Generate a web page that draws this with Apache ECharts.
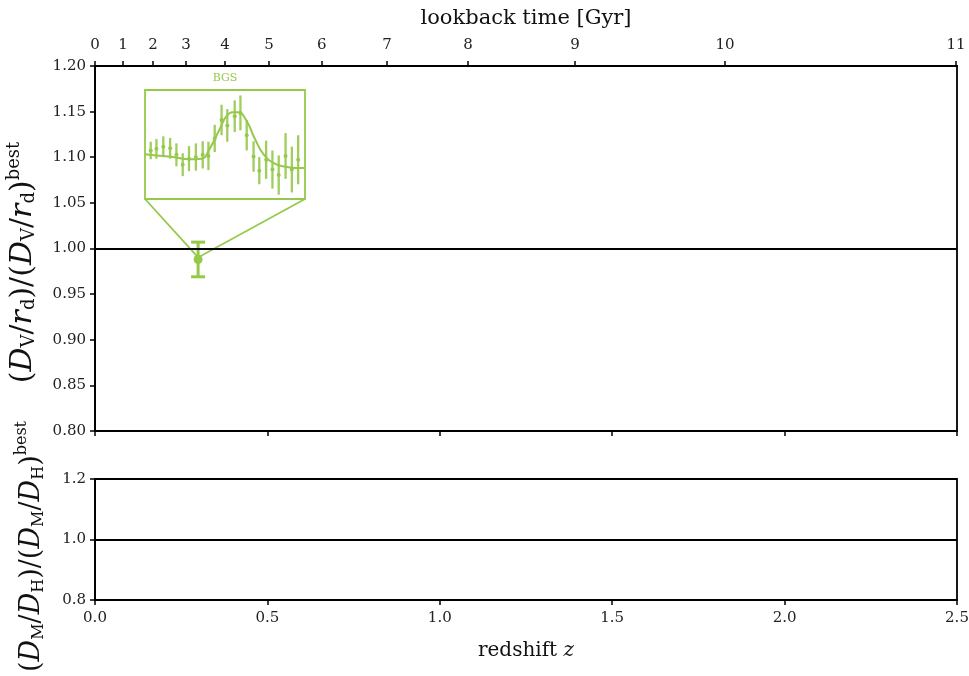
<!DOCTYPE html>
<html>
<head>
<meta charset="utf-8">
<script src="https://cdn.jsdelivr.net/npm/echarts@6/dist/echarts.min.js"></script>
<style>html,body{margin:0;padding:0;background:#fff}#c{width:969px;height:676px}</style>
</head>
<body>
<div id="c"></div>
<script>
// ---- data ----
const lookbackGyr = [0, 1, 2, 3, 4, 5, 6, 7, 8, 9, 10, 11];
const lookbackZ = [0, 0.081, 0.168, 0.264, 0.377, 0.505, 0.658, 0.847, 1.082, 1.392, 1.827, 2.497];
const bgsZ = [0.299];
const bgsRatio = [0.988];
const bgsErr = [0.019];
const refValue = 1.0;
// inset (BAO wiggle, arbitrary units)
const insetK = [0.030, 0.040, 0.052, 0.064, 0.075, 0.086, 0.097, 0.109, 0.121, 0.131, 0.142, 0.154,
                0.164, 0.177, 0.187, 0.198, 0.210, 0.220, 0.232, 0.243, 0.254, 0.266, 0.277, 0.288];
const insetP = [0.989, 0.992, 0.996, 0.993, 0.981, 0.963, 0.974, 0.977, 0.981, 0.979, 1.011, 1.045,
                1.035, 1.052, 1.058, 1.017, 0.978, 0.952, 0.972, 0.954, 0.944, 0.979, 0.954, 0.972];
const insetE = [0.016, 0.018, 0.019, 0.019, 0.021, 0.021, 0.023, 0.025, 0.025, 0.026, 0.025, 0.028,
                0.030, 0.029, 0.032, 0.028, 0.028, 0.025, 0.035, 0.035, 0.036, 0.042, 0.042, 0.045];
const curveK = [0.020, 0.040, 0.069, 0.098, 0.119, 0.133, 0.151, 0.162, 0.174, 0.183, 0.197, 0.212, 0.229, 0.247, 0.267, 0.284, 0.300];
const curveP = [0.982, 0.980, 0.977, 0.973, 0.974, 0.992, 1.029, 1.051, 1.059, 1.059, 1.045, 1.011, 0.980, 0.965, 0.959, 0.957, 0.957];

// ---- style / layout ----
const G = '#95c94a';
const FONT = 'DejaVu Serif';
const INSET = {left: 145, top: 90, width: 160, height: 109};

function makeRich(big, small) {
  return {
    n: {fontFamily: FONT, fontSize: big, lineHeight: 36, color: '#111'},
    i: {fontFamily: FONT, fontSize: big, fontStyle: 'italic', lineHeight: 36, color: '#111'},
    sub: {fontFamily: FONT, fontSize: small, lineHeight: 36, verticalAlign: 'bottom', padding: [0, 0, 3, 0], color: '#111'},
    sup: {fontFamily: FONT, fontSize: small, lineHeight: 36, verticalAlign: 'top', color: '#111'}
  };
}
const richTop = makeRich(30, 18);
const richBottom = makeRich(27, 16);
const richX = {
  n: {fontFamily: FONT, fontSize: 20, color: '#111'},
  i: {fontFamily: FONT, fontSize: 20, fontStyle: 'italic', color: '#111'}
};

const chart = echarts.init(document.getElementById('c'), null, {renderer: 'canvas'});

const axisLineStyle = {lineStyle: {color: '#000', width: 1.8}};
const tickStyle = {inside: false, length: 5, lineStyle: {color: '#000', width: 1.5}};
const labelStyle = {fontFamily: FONT, fontSize: 15, color: '#222'};

function nearestIdx(arr, v) {
  let b = 0;
  for (let i = 1; i < arr.length; i++) if (Math.abs(arr[i] - v) < Math.abs(arr[b] - v)) b = i;
  return b;
}

const option = {
  animation: false,
  backgroundColor: '#fff',
  grid: [
    {left: 95, right: 12, top: 66, height: 365, show: true, borderColor: '#000', borderWidth: 1.8, containLabel: false, outerBoundsMode: 'none'},
    {left: 95, right: 12, top: 479, height: 121, show: true, borderColor: '#000', borderWidth: 1.8, containLabel: false, outerBoundsMode: 'none'},
    {left: INSET.left, top: INSET.top, width: INSET.width, height: INSET.height, show: true, borderColor: G, borderWidth: 1.8, backgroundColor: '#fff', z: 5, outerBoundsMode: 'none'}
  ],
  xAxis: [
    {gridIndex: 0, type: 'value', position: 'bottom', min: 0, max: 2.5, interval: 0.5,
     axisLine: axisLineStyle, axisTick: tickStyle, axisLabel: {show: false}, splitLine: {show: false}},
    {gridIndex: 0, type: 'value', position: 'top', min: 0, max: 2.5,
     axisLine: axisLineStyle,
     axisTick: Object.assign({customValues: lookbackZ}, tickStyle),
     axisLabel: Object.assign({customValues: lookbackZ, margin: 13,
       formatter: v => String(lookbackGyr[nearestIdx(lookbackZ, v)])}, labelStyle),
     splitLine: {show: false},
     name: 'lookback time [Gyr]', nameLocation: 'middle', nameGap: 37,
     nameTextStyle: {fontFamily: FONT, fontSize: 21, color: '#111'}},
    {gridIndex: 1, type: 'value', position: 'bottom', min: 0, max: 2.5, interval: 0.5,
     axisLine: axisLineStyle, axisTick: tickStyle,
     axisLabel: Object.assign({formatter: v => v.toFixed(1), margin: 11}, labelStyle),
     splitLine: {show: false},
     name: '{n|redshift }{i|z}', nameLocation: 'middle', nameGap: 41,
     nameTextStyle: {rich: richX}},
    {gridIndex: 2, type: 'value', position: 'top', min: 0.02, max: 0.30,
     axisLine: {show: false}, axisTick: {show: false}, axisLabel: {show: false}, splitLine: {show: false},
     name: 'BGS', nameLocation: 'middle', nameGap: 6,
     nameTextStyle: {fontFamily: FONT, fontSize: 11, color: G}}
  ],
  yAxis: [
    {gridIndex: 0, type: 'value', min: 0.8, max: 1.2, interval: 0.05,
     axisLine: axisLineStyle, axisTick: tickStyle,
     axisLabel: Object.assign({formatter: v => v.toFixed(2), margin: 9}, labelStyle),
     splitLine: {show: false},
     name: '{n|(}{i|D}{sub|V}{n|/}{i|r}{sub|d}{n|)/(}{i|D}{sub|V}{n|/}{i|r}{sub|d}{n|)}{sup|best}',
     nameLocation: 'middle', nameRotate: 90, nameGap: 45,
     nameTextStyle: {rich: richTop, padding: [0, 28, 0, 0]}},
    {gridIndex: 1, type: 'value', min: 0.8, max: 1.2, interval: 0.2,
     axisLine: axisLineStyle, axisTick: tickStyle,
     axisLabel: Object.assign({formatter: v => v.toFixed(1), margin: 9}, labelStyle),
     splitLine: {show: false},
     name: '{n|(}{i|D}{sub|M}{n|/}{i|D}{sub|H}{n|)/(}{i|D}{sub|M}{n|/}{i|D}{sub|H}{n|)}{sup|best}',
     nameLocation: 'middle', nameRotate: 90, nameGap: 45,
     nameTextStyle: {rich: richBottom, padding: [0, 14, 0, 0]}},
    {gridIndex: 2, type: 'value', min: 0.90, max: 1.10,
     axisLine: {show: false}, axisTick: {show: false}, axisLabel: {show: false}, splitLine: {show: false}}
  ],
  series: [
    {type: 'line', xAxisIndex: 0, yAxisIndex: 0, data: [], silent: true,
     markLine: {silent: true, symbol: 'none', label: {show: false},
       lineStyle: {color: '#000', width: 2, type: 'solid'}, data: [{yAxis: refValue}]}},
    {type: 'line', xAxisIndex: 2, yAxisIndex: 1, data: [], silent: true,
     markLine: {silent: true, symbol: 'none', label: {show: false},
       lineStyle: {color: '#000', width: 2, type: 'solid'}, data: [{yAxis: refValue}]}},
    {type: 'custom', xAxisIndex: 0, yAxisIndex: 0, clip: false, z: 4,
     data: bgsZ.map((z, i) => [z, bgsRatio[i], bgsErr[i]]),
     renderItem: function (params, api) {
       const x = api.value(0), y = api.value(1), e = api.value(2);
       const p = api.coord([x, y]);
       const hi = api.coord([x, y + e]);
       const lo = api.coord([x, y - e]);
       const bl = [INSET.left, INSET.top + INSET.height];
       const br = [INSET.left + INSET.width, INSET.top + INSET.height];
       const cap = 7;
       return {type: 'group', children: [
         {type: 'polyline', shape: {points: [bl, [p[0], p[1] - 2], br]}, style: {stroke: G, lineWidth: 1.8, fill: null}},
         {type: 'line', shape: {x1: p[0], y1: hi[1], x2: p[0], y2: lo[1]}, style: {stroke: G, lineWidth: 3}},
         {type: 'line', shape: {x1: p[0] - cap, y1: hi[1], x2: p[0] + cap, y2: hi[1]}, style: {stroke: G, lineWidth: 3}},
         {type: 'line', shape: {x1: p[0] - cap, y1: lo[1], x2: p[0] + cap, y2: lo[1]}, style: {stroke: G, lineWidth: 3}},
         {type: 'circle', shape: {cx: p[0], cy: p[1], r: 4.5}, style: {fill: G}}
       ]};
     }},
    {type: 'line', xAxisIndex: 3, yAxisIndex: 2, smooth: 0.5, showSymbol: false, z: 6,
     lineStyle: {color: G, width: 2}, data: curveK.map((k, i) => [k, curveP[i]])},
    {type: 'custom', xAxisIndex: 3, yAxisIndex: 2, z: 6,
     data: insetK.map((k, i) => [k, insetP[i], insetE[i]]),
     renderItem: function (params, api) {
       const x = api.value(0), y = api.value(1), e = api.value(2);
       const p = api.coord([x, y]);
       const hi = api.coord([x, y + e]);
       const lo = api.coord([x, y - e]);
       return {type: 'group', children: [
         {type: 'line', shape: {x1: p[0], y1: hi[1], x2: p[0], y2: lo[1]}, style: {stroke: G, lineWidth: 2.3, opacity: 0.9}},
         {type: 'circle', shape: {cx: p[0], cy: p[1], r: 2}, style: {fill: G}}
       ]};
     }}
  ]
};
chart.setOption(option);
</script>
</body>
</html>
